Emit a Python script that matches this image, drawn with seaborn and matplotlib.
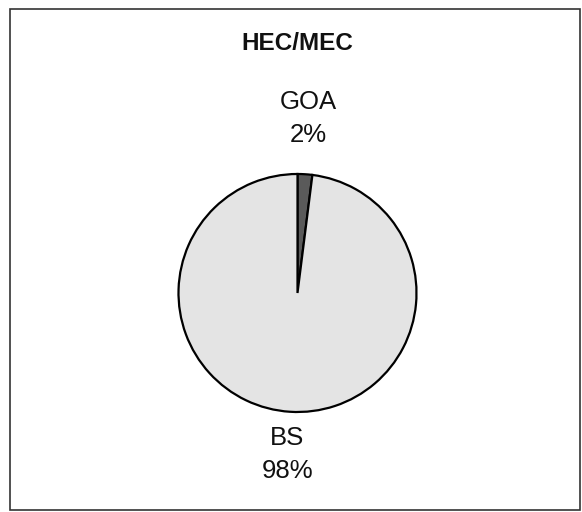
import numpy as np
import matplotlib
matplotlib.use("Agg")
import matplotlib.pyplot as plt
import matplotlib.patches as mpatches
import seaborn as sns

# data
title = "HEC/MEC"
categories = ["GOA", "BS"]
shares = [2, 98]
slice_colors = ["#5a5a5a", "#e4e4e4"]
label_dist = [1.47, 1.36]  # label distance from centre, in radii

sns.set_theme(style="white")
plt.rcParams['font.family'] = ['Liberation Sans', 'DejaVu Sans']

W, H = 582, 512
fig = plt.figure(figsize=(W / 100, H / 100), dpi=100)
ax = fig.add_axes([0, 0, 1, 1])

# pie centre / radius in pixels
cx, cy, r = 297.5, 293, 119

ax.pie(shares, colors=slice_colors, startangle=90, counterclock=False,
       radius=1, center=(0, 0), frame=True,
       wedgeprops=dict(edgecolor="black", linewidth=1.6))
ax.set_xlim(-cx / r, (W - cx) / r)
ax.set_ylim(-(H - cy) / r, cy / r)
ax.set_aspect("auto")
ax.axis("off")

# labels at wedge midpoints
total = sum(shares)
start = 90.0
for name, val, d in zip(categories, shares, label_dist):
    span = 360.0 * val / total
    mid = np.deg2rad(start - span / 2)
    start -= span
    ax.text(d * np.cos(mid), d * np.sin(mid),
            f"{name}\n{val / total * 100:.0f}%",
            ha="center", va="center", fontsize=18.5, linespacing=1.5,
            color="#111111")

ax.text(0, (cy - 43) / r, title, ha="center", va="center",
        fontsize=17.5, fontweight="bold", color="#111111")

# outer frame
frame = mpatches.Rectangle((10 / W, 1 - 510 / H), 570 / W, 501 / H,
                           transform=fig.transFigure, fill=False,
                           edgecolor="#333333", linewidth=1.2)
fig.patches.append(frame)

fig.savefig("out.png", dpi=100)
